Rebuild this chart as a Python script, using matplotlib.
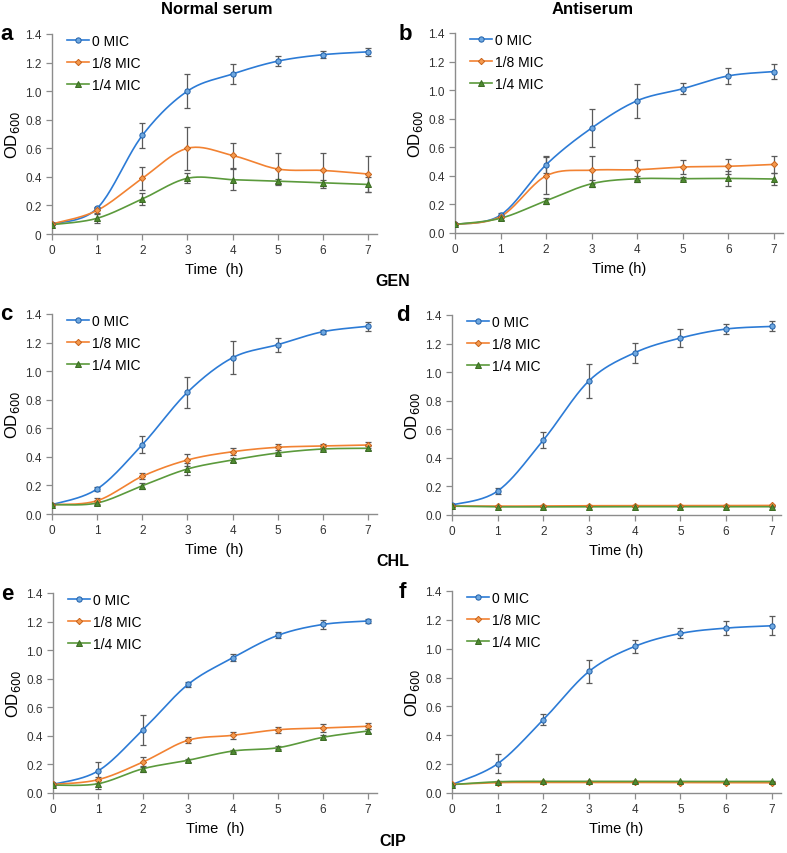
import numpy as np
import matplotlib
matplotlib.use("Agg")
import matplotlib.pyplot as plt

plt.rcParams['font.family'] = ['Liberation Sans', 'DejaVu Sans']

hours = [0, 1, 2, 3, 4, 5, 6, 7]
series_names = ['0 MIC', '1/8 MIC', '1/4 MIC']

# panel a - normal serum, GEN
a_mean = [[0.07, 0.18, 0.69, 1.00, 1.12, 1.21, 1.255, 1.275],
          [0.07, 0.165, 0.39, 0.60, 0.55, 0.455, 0.445, 0.42],
          [0.065, 0.11, 0.245, 0.39, 0.38, 0.37, 0.358, 0.347]]
a_err = [[0.01, 0.01, 0.087, 0.12, 0.07, 0.037, 0.025, 0.03],
         [0.005, 0.02, 0.08, 0.15, 0.09, 0.11, 0.12, 0.125],
         [0.005, 0.03, 0.045, 0.035, 0.075, 0.015, 0.02, 0.05]]
# panel b - antiserum, GEN
b_mean = [[0.06, 0.125, 0.478, 0.735, 0.926, 1.01, 1.10, 1.13],
          [0.06, 0.115, 0.40, 0.44, 0.443, 0.462, 0.467, 0.48],
          [0.06, 0.103, 0.226, 0.345, 0.38, 0.38, 0.382, 0.378]]
b_err = [[0.005, 0.012, 0.06, 0.13, 0.12, 0.04, 0.055, 0.05],
         [0.005, 0.01, 0.13, 0.10, 0.07, 0.047, 0.053, 0.06],
         [0.005, 0.01, 0.02, 0.025, 0.02, 0.01, 0.05, 0.04]]
# panel c - normal serum, CHL
c_mean = [[0.065, 0.175, 0.485, 0.852, 1.094, 1.185, 1.276, 1.314],
          [0.065, 0.093, 0.264, 0.378, 0.436, 0.467, 0.476, 0.483],
          [0.065, 0.077, 0.198, 0.315, 0.378, 0.427, 0.455, 0.46]]
c_err = [[0.005, 0.012, 0.06, 0.11, 0.115, 0.05, 0.015, 0.03],
         [0.005, 0.02, 0.02, 0.045, 0.025, 0.02, 0.015, 0.02],
         [0.005, 0.015, 0.02, 0.04, 0.015, 0.01, 0.01, 0.015]]
# panel d - antiserum, CHL
d_mean = [[0.07, 0.168, 0.525, 0.94, 1.136, 1.239, 1.302, 1.32],
          [0.063, 0.062, 0.063, 0.065, 0.065, 0.065, 0.066, 0.067],
          [0.062, 0.057, 0.057, 0.058, 0.058, 0.058, 0.058, 0.058]]
d_err = [[0.005, 0.02, 0.055, 0.12, 0.07, 0.065, 0.035, 0.035],
         [0.004, 0.004, 0.004, 0.004, 0.004, 0.004, 0.004, 0.004],
         [0.004, 0.004, 0.004, 0.004, 0.004, 0.004, 0.004, 0.004]]
# panel e - normal serum, CIP
e_mean = [[0.06, 0.154, 0.443, 0.76, 0.947, 1.104, 1.18, 1.204],
          [0.06, 0.093, 0.217, 0.369, 0.404, 0.443, 0.455, 0.467],
          [0.055, 0.065, 0.17, 0.229, 0.294, 0.317, 0.39, 0.434]]
e_err = [[0.005, 0.065, 0.105, 0.02, 0.025, 0.02, 0.03, 0.015],
         [0.005, 0.02, 0.035, 0.02, 0.025, 0.02, 0.03, 0.02],
         [0.005, 0.035, 0.02, 0.01, 0.01, 0.01, 0.015, 0.015]]
# panel f - antiserum, CIP
f_mean = [[0.058, 0.203, 0.509, 0.843, 1.016, 1.106, 1.143, 1.159],
          [0.06, 0.072, 0.073, 0.073, 0.073, 0.072, 0.071, 0.071],
          [0.058, 0.078, 0.081, 0.081, 0.081, 0.08, 0.08, 0.08]]
f_err = [[0.005, 0.065, 0.04, 0.08, 0.045, 0.035, 0.05, 0.065],
         [0.004, 0.004, 0.004, 0.004, 0.004, 0.004, 0.004, 0.004],
         [0.004, 0.004, 0.004, 0.004, 0.004, 0.004, 0.004, 0.004]]

line_cols = ['#2C7BD6', '#F28232', '#5B9A3C']
face_cols = ['#6FA8E0', '#F59A4E', '#4E8A30']
edge_cols = ['#1F5FA8', '#C8621A', '#3A6A22']
markers = ['o', 'D', '^']
msizes = [3.8, 3.2, 3.8]


def smooth(x, y, n=24):
    # excel-like smoothed line (catmull-rom as bezier)
    x = np.asarray(x, float)
    y = np.asarray(y, float)
    px = np.concatenate([[x[0]], x, [x[-1]]])
    py = np.concatenate([[y[0]], y, [y[-1]]])
    xs, ys = [], []
    t = np.linspace(0, 1, n)
    for i in range(1, len(px) - 2):
        p0x, p1x, p2x, p3x = px[i - 1:i + 3]
        p0y, p1y, p2y, p3y = py[i - 1:i + 3]
        c1x, c1y = p1x + (p2x - p0x) / 6, p1y + (p2y - p0y) / 6
        c2x, c2y = p2x - (p3x - p1x) / 6, p2y - (p3y - p1y) / 6
        bx = (1-t)**3*p1x + 3*(1-t)**2*t*c1x + 3*(1-t)*t**2*c2x + t**3*p2x
        by = (1-t)**3*p1y + 3*(1-t)**2*t*c1y + 3*(1-t)*t**2*c2y + t**3*p2y
        xs.extend(bx)
        ys.extend(by)
    return xs, ys


W, H = 787, 854
fig = plt.figure(figsize=(W / 100, H / 100), dpi=100)

panels = [
    ('a', a_mean, a_err, (52, 377, 35, 235), 'Time  (h)', True),
    ('b', b_mean, b_err, (455, 783, 34, 234), 'Time (h)', False),
    ('c', c_mean, c_err, (52, 377, 315, 515), 'Time  (h)', False),
    ('d', d_mean, d_err, (452, 781, 316, 516), 'Time (h)', False),
    ('e', e_mean, e_err, (53, 377, 594, 794), 'Time  (h)', False),
    ('f', f_mean, f_err, (452, 781, 592, 794), 'Time (h)', False),
]

for letter, means, errs, (l, r, t, b), xlab, zero_label in panels:
    ax = fig.add_axes([l / W, 1 - b / H, (r - l) / W, (b - t) / H])
    for k in range(3):
        sx, sy = smooth(hours, means[k])
        ax.errorbar(hours, means[k], yerr=errs[k], fmt='none', ecolor='#5a5a5a',
                    elinewidth=0.9, capsize=2.5, capthick=0.9, zorder=2)
        ax.plot(sx, sy, color=line_cols[k], lw=1.2, zorder=3)
        ax.plot(hours, means[k], ls='none', marker=markers[k], ms=msizes[k],
                mfc=face_cols[k], mec=edge_cols[k], mew=0.7, zorder=4)
        # legend proxy
        ax.plot([], [], color=line_cols[k], lw=1.2, marker=markers[k], ms=msizes[k],
                mfc=face_cols[k], mec=edge_cols[k], mew=0.7, label=series_names[k])
    ax.set_xlim(0, 7.2)
    ax.set_ylim(0, 1.4)
    ax.set_xticks(hours)
    yt = [0, 0.2, 0.4, 0.6, 0.8, 1.0, 1.2, 1.4]
    ax.set_yticks(yt)
    ylabels = ['%.1f' % v for v in yt]
    if zero_label:
        ylabels[0] = '0'
    ax.set_yticklabels(ylabels)
    for s in ['top', 'right']:
        ax.spines[s].set_visible(False)
    for s in ['left', 'bottom']:
        ax.spines[s].set_color('#8c8c8c')
        ax.spines[s].set_linewidth(1.0)
    ax.tick_params(direction='out', length=4, width=0.9, color='#8c8c8c',
                   labelsize=8.5, labelcolor='#333333')
    ax.set_xlabel(xlab, fontsize=10.5, labelpad=4)
    ax.set_ylabel('OD$_{600}$', fontsize=12, labelpad=2)
    ax.legend(loc='upper left', bbox_to_anchor=(0.02, 1.04), frameon=False,
              fontsize=10, handlelength=1.6, handletextpad=0.2, labelspacing=0.55,
              borderaxespad=0.2)
    ax.text(-0.14 if letter in 'ace' else -0.15, 1.0, letter, transform=ax.transAxes,
            fontsize=16, fontweight='bold', ha='center', va='center')

fig.text(217 / W, 1 - 10 / H, 'Normal serum', fontsize=12, fontweight='bold',
         ha='center', va='center')
fig.text(593 / W, 1 - 10 / H, 'Antiserum', fontsize=12, fontweight='bold',
         ha='center', va='center')
for lab, yy in [('GEN', 282), ('CHL', 562), ('CIP', 842)]:
    fig.text(393 / W, 1 - yy / H, lab, fontsize=11.5, fontweight='bold',
             ha='center', va='center')

plt.savefig('out.png', dpi=100)
